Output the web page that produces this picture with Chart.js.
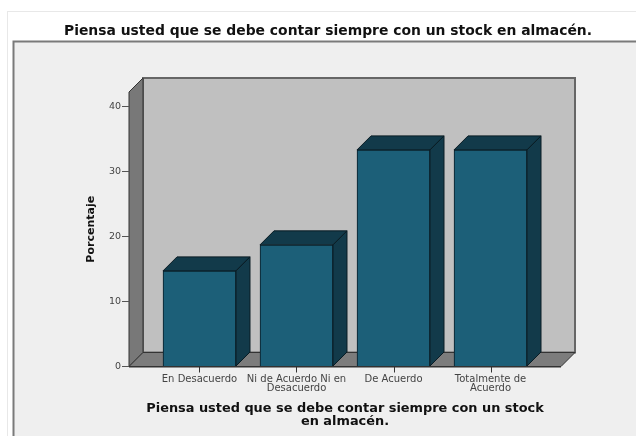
<!DOCTYPE html>
<html><head><meta charset="utf-8">
<style>html,body{margin:0;padding:0;background:#fff;overflow:hidden}canvas{display:block;filter:blur(0.45px)}</style>
<script src="https://cdn.jsdelivr.net/npm/chart.js@4"></script></head>
<body><canvas id="c" width="636" height="436" style="width:636px;height:436px"></canvas>
<script>
const categories = [["En Desacuerdo"], ["Ni de Acuerdo Ni en", "Desacuerdo"], ["De Acuerdo"], ["Totalmente de", "Acuerdo"]];
const percentages = [14.7, 18.7, 33.3, 33.3];
const yTicks = [0, 10, 20, 30, 40];
const chartTitle = "Piensa usted que se debe contar siempre con un stock en almacén.";
const xTitle = ["Piensa usted que se debe contar siempre con un stock", "en almacén."];
const yTitle = "Porcentaje";

const DX = 14, DY = 14;
function poly(c, pts, fill, stroke, lw) {
  c.beginPath(); pts.forEach((p, i) => i ? c.lineTo(p[0], p[1]) : c.moveTo(p[0], p[1])); c.closePath();
  if (fill) { c.fillStyle = fill; c.fill(); }
  if (stroke) { c.strokeStyle = stroke; c.lineWidth = lw || 1; c.stroke(); }
}
const frame = {
  id: 'frame',
  afterLayout(ch) { ch.titleBlock.left = 20; ch.titleBlock.right = 636; },
  beforeDraw(ch) {
    const c = ch.ctx;
    c.save();
    c.fillStyle = '#ffffff'; c.fillRect(0, 0, 636, 436);
    c.strokeStyle = '#e8e8e8'; c.lineWidth = 1; c.strokeRect(7.5, 11.5, 640, 440);
    c.fillStyle = '#efefef'; c.fillRect(13, 41, 640, 400);
    c.strokeStyle = '#7a7a7a'; c.lineWidth = 2;
    c.beginPath(); c.moveTo(13.5, 440); c.lineTo(13.5, 41.5); c.lineTo(640, 41.5); c.stroke();
    const a = ch.chartArea, L = a.left, R = a.right, T = a.top, B = a.bottom;
    poly(c, [[L + DX, T - DY], [R + DX, T - DY], [R + DX, B - DY], [L + DX, B - DY]], '#c0c0c0', '#666', 2);
    poly(c, [[L, T], [L + DX, T - DY], [L + DX, B - DY], [L, B]], '#787878', '#333', 1);
    poly(c, [[L, B], [L + DX, B - DY], [R + DX, B - DY], [R, B]], '#7c7c7c', '#333', 1);
    c.restore();
  },
  afterDatasetsDraw(ch) {
    const c = ch.ctx;
    c.save();
    ch.getDatasetMeta(0).data.forEach(el => {
      const p = el.getProps(['x', 'y', 'base', 'width'], true);
      const l = p.x - p.width / 2, r = p.x + p.width / 2, t = p.y, b = p.base;
      poly(c, [[l, t], [l + DX, t - DY], [r + DX, t - DY], [r, t]], '#123a4a', '#0a1c24', 1);
      poly(c, [[r, t], [r + DX, t - DY], [r + DX, b - DY], [r, b]], '#123a4a', '#0a1c24', 1);
    });
    const B = ch.chartArea.bottom;
    c.strokeStyle = '#333'; c.lineWidth = 1;
    c.beginPath(); c.moveTo(ch.chartArea.left, B + .5); c.lineTo(ch.chartArea.right, B + .5);
    categories.forEach((_, i) => {
      const x = Math.round(ch.scales.x.getPixelForValue(i)) + .5;
      c.moveTo(x, B); c.lineTo(x, B + 6);
    });
    c.stroke();
    c.restore();
  }
};
new Chart(document.getElementById('c'), {
  type: 'bar',
  data: { datasets: [{
    data: percentages.map((v, i) => ({ x: i, y: v })),
    backgroundColor: '#1c5f78', borderColor: '#0a1c24', borderWidth: 1, barThickness: 73
  }]},
  options: {
    responsive: false, animation: false,
    layout: { padding: { top: 0, left: 0, right: 75, bottom: 0 } },
    plugins: {
      legend: { display: false }, tooltip: { enabled: false },
      title: { display: true, text: chartTitle, color: '#111', font: { family: 'DejaVu Sans', size: 13.9, weight: 'bold', lineHeight: 1 }, padding: { top: 24, bottom: 54.1 }, position: 'top' }
    },
    scales: {
      x: {
        type: 'linear', min: -0.7268, max: 3.7268, offset: false,
        afterBuildTicks(s) { s.ticks = categories.map((_, i) => ({ value: i })); },
        afterFit(s) { s.height = 69.5; },
        grid: { display: false, tickLength: 5 },
        border: { display: false },
        ticks: { autoSkip: false, maxRotation: 0, minRotation: 0, padding: 3, color: '#444', font: { family: 'DejaVu Sans', size: 10, lineHeight: 0.95 }, callback: (v) => categories[v] },
        title: { display: true, text: xTitle, color: '#111', font: { family: 'DejaVu Sans', size: 12.9, weight: 'bold', lineHeight: 1 }, padding: { top: 4, bottom: 8 } }
      },
      y: {
        min: 0, max: 42.2,
        afterBuildTicks(s) { s.ticks = yTicks.map(v => ({ value: v })); },
        afterFit(s) { s.width = 129; },
        grid: { display: true, drawOnChartArea: false, drawTicks: true, tickLength: 7, color: '#555' },
        border: { display: false },
        ticks: { color: '#444', font: { family: 'DejaVu Sans', size: 9.5 }, padding: 1 },
        title: { display: true, text: yTitle, color: '#111', font: { family: 'DejaVu Sans', size: 11, weight: 'bold' }, padding: { top: 85, bottom: 0 } }
      }
    }
  },
  plugins: [frame]
});
</script></body></html>
